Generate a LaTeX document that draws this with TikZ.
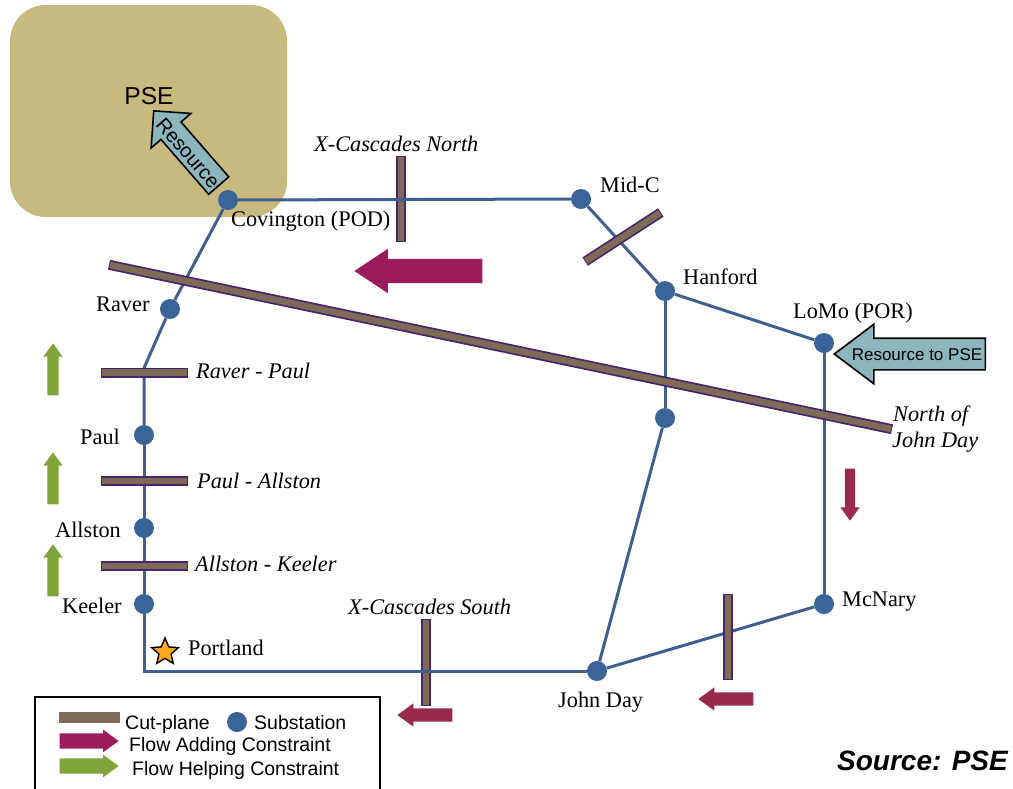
\documentclass[tikz,border=0pt]{standalone}
\usepackage{fontspec}
\setmainfont{Liberation Serif}
\setsansfont{Liberation Sans}
\usepackage{xcolor}
\usepackage{tikz}
\usetikzlibrary{shapes.geometric,shapes.arrows}

\definecolor{pseland}{HTML}{C8B97F}
\definecolor{linkblue}{HTML}{3F5F91}
\definecolor{dotblue}{HTML}{3A6398}
\definecolor{cutbrown}{HTML}{7F6A57}
\definecolor{cutedge}{HTML}{46266E}
\definecolor{addflow}{HTML}{9B1B5E}
\definecolor{addflowsmall}{HTML}{982A4C}
\definecolor{helpflow}{HTML}{7FA53A}
\definecolor{resourcefill}{HTML}{8DB6BC}
\definecolor{starorange}{HTML}{FFA81C}

\tikzset{
  substation/.style={circle,fill=dotblue,minimum size=20pt,inner sep=0pt},
  link/.style={draw=linkblue,line width=3pt},
  cutplane/.style={cutbrown,line width=6.5pt,preaction={draw=cutedge,line width=10pt,shorten >=-1pt,shorten <=-1pt}},
  place/.style={anchor=base west,inner sep=0pt,font=\fontsize{22.3}{26}\selectfont},
  cutname/.style={place,font=\fontsize{22.3}{26}\selectfont\itshape},
  legendtext/.style={anchor=base west,inner sep=0pt,font=\sffamily\fontsize{19.5}{24}\selectfont},
  flowbase/.style={single arrow,anchor=tip,draw=none},
  bigadd/.style={flowbase,fill=addflow,minimum height=128pt,inner sep=12pt,single arrow head extend=10pt,single arrow tip angle=67},
  smalladd/.style={flowbase,fill=addflowsmall,minimum height=55pt,inner sep=6.5pt,single arrow head extend=5pt,single arrow tip angle=72},
  sideadd/.style={flowbase,fill=addflowsmall,minimum height=52pt,inner sep=5pt,single arrow head extend=4.5pt,single arrow tip angle=72},
  helper/.style={flowbase,fill=helpflow,minimum height=52pt,inner sep=5.5pt,single arrow head extend=4pt,single arrow tip angle=72},
  legendflow/.style={flowbase,minimum height=59pt,inner sep=7.5pt,single arrow head extend=3.5pt,single arrow tip angle=72},
  resource/.style={single arrow,anchor=tip,draw=black,line width=1.6pt,fill=resourcefill}
}

\begin{document}
\begin{tikzpicture}[x=1pt,y=-1pt]
    \useasboundingbox (0,0) rectangle (1013,788);
    \clip (0,0) rectangle (1013,788);

    \fill[pseland,rounded corners=36pt] (10,5) rectangle (287,217);
    \node[inner sep=0pt,font=\sffamily\fontsize{24.5}{28}\selectfont] (pse) at (149,96) {PSE};

    \node[substation] (covington) at (228,200) {};
    \node[substation] (raver) at (170,309) {};
    \node[substation] (paul) at (144,435) {};
    \node[substation] (allston) at (144,528) {};
    \node[substation] (keeler) at (144,604) {};
    \node[substation] (johnday) at (597,671) {};
    \node[substation] (mcnary) at (824,604) {};
    \node[substation] (lomo) at (824,343) {};
    \node[substation] (hanford) at (665,291) {};
    \node[substation] (midc) at (581,199) {};
    \node[substation] (tap) at (665,418) {};
    \coordinate (raverbend) at (144,368);
    \coordinate (portlandbend) at (144,671);

    \draw[cutplane] (401,157) -- (401,241);
    \draw[cutplane] (426,620) -- (426,705);

    \draw[link] (covington) -- (midc);
    \draw[link] (midc) -- (hanford);
    \draw[link] (hanford) -- (lomo);
    \draw[link] (hanford) -- (tap);
    \draw[link] (tap) -- (johnday);
    \draw[link] (lomo) -- (mcnary);
    \draw[link] (mcnary) -- (johnday);
    \draw[link] (johnday) -- (portlandbend) -- (keeler);
    \draw[link] (keeler) -- (allston);
    \draw[link] (allston) -- (paul);
    \draw[link] (paul) -- (raverbend) -- (raver);
    \draw[link] (raver) -- (covington);

    \draw[cutplane] (110,265) -- (891,429);
    \draw[cutplane] (586,261) -- (660,213);
    \draw[cutplane] (728,595) -- (728,679);
    \draw[cutplane] (102,372.5) -- (187,372.5);
    \draw[cutplane] (102,481) -- (187,481);
    \draw[cutplane] (102,566) -- (187,566);

    \node[star,star points=5,star point ratio=2.2,draw=black,line width=1.4pt,fill=starorange,minimum size=28pt,inner sep=0pt] (portlandstar) at (165,652) {};

    \node[place] (covingtonname) at (231,226) {Covington (POD)};
    \node[place] (midcname) at (600,192) {Mid-C};
    \node[place] (hanfordname) at (683,284) {Hanford};
    \node[place] (lomoname) at (793,318) {LoMo (POR)};
    \node[place] (ravername) at (96,311) {Raver};
    \node[place] (paulname) at (80,444) {Paul};
    \node[place] (allstonname) at (55,537) {Allston};
    \node[place] (keelername) at (62,613) {Keeler};
    \node[place] (portlandname) at (188,655) {Portland};
    \node[place] (mcnaryname) at (842,606) {McNary};
    \node[place] (johndayname) at (558,707) {John Day};

    \node[cutname] (xnorth) at (314,151) {X-Cascades North};
    \node[cutname] (xsouth) at (348,614) {X-Cascades South};
    \node[cutname] (raverpaul) at (196,378) {Raver - Paul};
    \node[cutname] (paulallston) at (197,488) {Paul - Allston};
    \node[cutname] (allstonkeeler) at (195,571) {Allston - Keeler};
    \node[cutname] (northjd) at (893,421) {North of};
    \node[cutname] (northjdb) at (892,447) {John Day};

    \node[bigadd,shape border rotate=180] (xnorthflow) at (354,271) {};
    \node[smalladd,shape border rotate=180] (xsouthflow) at (397,715) {};
    \node[smalladd,shape border rotate=180] (mcnaryflow) at (698,699) {};
    \node[sideadd,shape border rotate=270] (lomoflow) at (850,521) {};

    \node[helper,shape border rotate=90] (helpa) at (53,343) {};
    \node[helper,shape border rotate=90] (helpb) at (53,452) {};
    \node[helper,shape border rotate=90] (helpc) at (53,544) {};

    \node[resource,shape border rotate=180,minimum height=151pt,inner sep=15pt,single arrow head extend=14pt,single arrow tip angle=74] (toPSE) at (833,354) {};
    \node[inner sep=0pt,font=\sffamily\fontsize{17}{20}\selectfont] (toPSEtext) at (917,355) {Resource to PSE};
    \node[resource,shape border rotate=180,rotate=-49,minimum height=99pt,inner sep=12.5pt,single arrow head extend=13pt,single arrow tip angle=90] (resourcearrow) at (153,110) {};
    \node[inner sep=0pt,rotate=-49,font=\sffamily\fontsize{20}{22}\selectfont] (resourcetext) at (188,153) {Resource};

    \draw[black,line width=2pt] (35,697) rectangle (380,792);
    \fill[cutbrown] (59,712) rectangle (120,723);
    \node[legendtext] (legcut) at (125,729) {Cut-plane};
    \node[substation] (legdot) at (237,722) {};
    \node[legendtext] (legsub) at (254,729) {Substation};
    \node[legendflow,fill=addflow] (legadd) at (119,741) {};
    \node[legendtext] (legaddtext) at (129,751) {Flow Adding Constraint};
    \node[legendflow,fill=helpflow] (leghelp) at (119,766) {};
    \node[legendtext] (leghelptext) at (132,775) {Flow Helping Constraint};

    \node[anchor=base east,inner sep=0pt,font=\sffamily\bfseries\itshape\fontsize{28}{32}\selectfont] (source) at (1008,770) {Source: PSE};
\end{tikzpicture}
\end{document}
